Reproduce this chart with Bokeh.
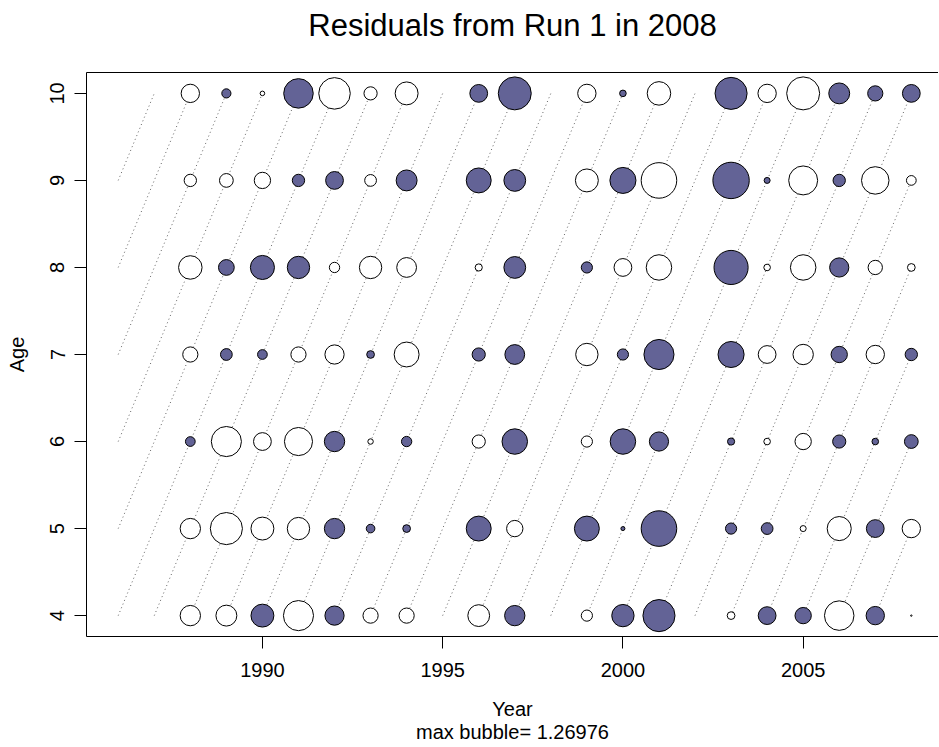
from bokeh.plotting import figure
from bokeh.models import Range1d, FixedTicker, LinearAxis, ColumnDataSource
from bokeh.embed import file_html
from bokeh.resources import INLINE

# ---------------- data ----------------
years = [1988, 1989, 1990, 1991, 1992, 1993, 1994, 1996, 1997,
         1999, 2000, 2001, 2003, 2004, 2005, 2006, 2007, 2008]
ages = [4, 5, 6, 7, 8, 9, 10]

# residuals by age (positive = filled bubble)
resid_age4 = [-0.71, -0.73, 0.80, -1.05, 0.67, -0.53, -0.53, -0.76, 0.71,
              -0.39, 0.78, 1.12, -0.27, 0.62, 0.57, -1.03, 0.64, -0.05]
resid_age5 = [-0.71, -1.12, -0.80, -0.78, 0.71, 0.30, 0.27, 0.87, -0.57,
              0.87, 0.14, 1.24, 0.39, 0.41, -0.21, -0.84, 0.62, -0.64]
resid_age6 = [0.34, -1.05, -0.62, -0.98, 0.71, -0.19, 0.36, -0.46, 0.89,
              -0.39, 0.89, 0.67, 0.25, -0.23, -0.57, 0.46, 0.23, 0.48]
resid_age7 = [-0.53, 0.41, 0.34, -0.53, -0.67, 0.27, -0.87, 0.46, 0.69,
              -0.78, 0.39, 1.05, 0.91, -0.62, -0.71, 0.57, -0.64, 0.43]
resid_age8 = [-0.82, 0.55, 0.84, 0.78, -0.36, -0.78, -0.69, -0.25, 0.76,
              0.39, -0.62, -0.89, 1.19, -0.23, -0.89, 0.67, -0.50, -0.27]
resid_age9 = [-0.43, -0.48, -0.57, 0.43, 0.62, -0.41, 0.73, 0.87, 0.76,
              -0.80, 0.91, -1.24, 1.26976, 0.21, -1.01, 0.43, -0.96, -0.34]
resid_age10 = [-0.64, 0.32, -0.16, 1.03, -1.10, -0.46, -0.80, 0.62, 1.15,
               -0.64, 0.23, -0.82, 1.12, -0.64, -1.15, 0.73, 0.53, 0.62]

first_year = 1986   # first year of the data set (cohort lines)
last_year = 2008
max_bubble = 1.26976
x_ticks = [1990, 1995, 2000, 2005]
y_ticks = [4, 5, 6, 7, 8, 9, 10]

title_text = "Residuals from Run 1 in 2008"
x_label = "Year"
sub_label = "max bubble= 1.26976"
y_label = "Age"

# ---------------- style ----------------
FONT = "Liberation Sans"
FILL = "#636396"
MAX_R = 18.2  # screen radius of the largest bubble

resid_by_age = {4: resid_age4, 5: resid_age5, 6: resid_age6, 7: resid_age7,
                8: resid_age8, 9: resid_age9, 10: resid_age10}

bx, by, br, bf = [], [], [], []
for a in ages:
    for yr, v in zip(years, resid_by_age[a]):
        bx.append(yr)
        by.append(a)
        br.append(MAX_R * abs(v) / max_bubble)
        bf.append(FILL if v > 0 else "white")
src = ColumnDataSource(dict(x=bx, y=by, r=br, fill=bf))

# cohort lines
lx, ly = [], []
for c in range(first_year - max(ages), last_year - min(ages) + 1):
    xs = [c + a for a in ages if first_year <= c + a <= last_year]
    ys = [a for a in ages if first_year <= c + a <= last_year]
    if len(xs) >= 2:
        lx.append(xs)
        ly.append(ys)

p = figure(width=938, height=745,
           x_range=Range1d(1985.12, 2008.754), y_range=Range1d(3.76, 10.24),
           output_backend="svg", toolbar_location=None,
           min_border_left=86, min_border_right=0,
           min_border_top=72, min_border_bottom=109,
           background_fill_color="white", border_fill_color="white")
p.outline_line_color = None
p.xgrid.grid_line_color = None
p.ygrid.grid_line_color = None

p.title.text = title_text
p.title.align = "center"
p.title.text_font = FONT
p.title.text_font_size = "31px"
p.title.text_font_style = "normal"
p.title.text_color = "black"
p.title.standoff = 0
p.title.offset = 3

for ax, ticks in ((p.xaxis[0], x_ticks), (p.yaxis[0], y_ticks)):
    ax.ticker = FixedTicker(ticks=ticks)
    ax.major_tick_out = 12
    ax.major_tick_in = 0
    ax.minor_tick_line_color = None
    ax.major_tick_line_color = "black"
    ax.axis_line_color = "black"
    ax.major_label_text_font = FONT
    ax.major_label_text_font_size = "20px"
    ax.major_label_text_color = "black"
    ax.axis_label_text_font = FONT
    ax.axis_label_text_font_size = "20px"
    ax.axis_label_text_font_style = "normal"
    ax.axis_label_text_color = "black"

p.xaxis[0].major_label_standoff = 14
p.xaxis[0].axis_label = x_label + "\n" + sub_label
p.xaxis[0].axis_label_text_line_height = 1.05
p.xaxis[0].axis_label_standoff = 18

p.yaxis[0].major_label_standoff = 10
p.yaxis[0].major_label_orientation = "vertical"
p.yaxis[0].axis_label = y_label
p.yaxis[0].axis_label_standoff = 20

# top border of the box (no ticks); its empty label keeps the title clear of the box
top = LinearAxis(ticker=FixedTicker(ticks=[]), axis_line_color="black",
                 major_tick_out=0, major_tick_in=0, minor_tick_line_color=None,
                 major_label_standoff=0, major_label_text_font_size="1px",
                 axis_label=" ", axis_label_text_font_size="1px",
                 axis_label_standoff=26)
p.add_layout(top, "above")

p.multi_line(lx, ly, line_color="#222222", line_width=1, line_dash="1 3", line_alpha=0.7)
p.circle(x="x", y="y", radius="r", radius_units="screen", fill_color="fill",
         line_color="black", line_width=1, source=src)

open("out.html", "w").write(file_html(p, INLINE))
